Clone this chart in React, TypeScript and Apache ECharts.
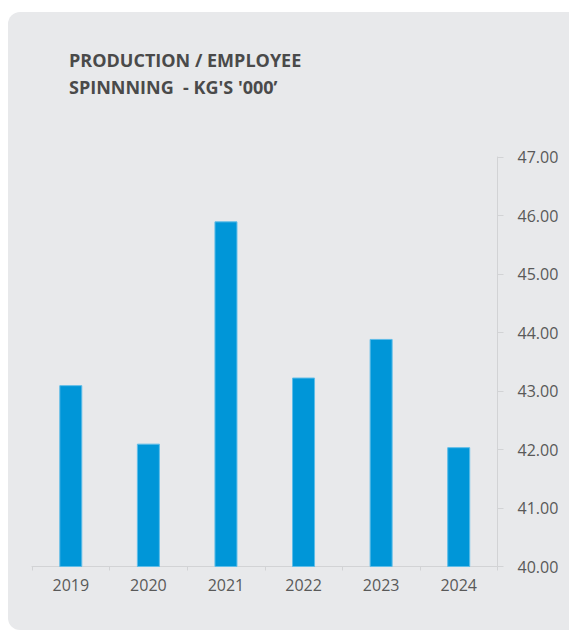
import React, { useEffect, useRef } from "react";
import * as echarts from "echarts";

const categories = ["2019", "2020", "2021", "2022", "2023", "2024"];
const values = [43.1, 42.1, 45.9, 43.23, 43.89, 42.04];
const titleLines = ["PRODUCTION / EMPLOYEE", "SPINNNING  - KG'S '000’"];
const yMin = 40;
const yMax = 47;
const yInterval = 1;

export default function App() {
  const ref = useRef<HTMLDivElement>(null);
  useEffect(() => {
    if (!ref.current) return;
    const chart = echarts.init(ref.current, undefined, { renderer: "svg" });
    const font = "'Open Sans', sans-serif";
    chart.setOption({
      animation: false,
      graphic: [
        {
          type: "rect",
          z: -10,
          shape: { x: 8, y: 12, width: 620, height: 618, r: 12 },
          style: { fill: "#E8E9EB" },
        },
        {
          type: "text",
          x: 69,
          y: 51,
          style: {
            text: titleLines[0],
            font: `700 18px ${font}`,
            fill: "#4A4A4A",
          },
        },
        {
          type: "text",
          x: 69,
          y: 78,
          style: {
            text: titleLines[1],
            font: `700 18px ${font}`,
            fill: "#4A4A4A",
          },
        },
      ],
      grid: { left: 32, right: 71.5, top: 157, bottom: 64.5 },
      xAxis: {
        type: "category",
        data: categories,
        axisLine: { show: true, lineStyle: { color: "#D2D3D5", width: 1 } },
        axisTick: { show: true, length: 4, lineStyle: { color: "#D2D3D5" } },
        axisLabel: {
          color: "#595959",
          fontFamily: font,
          fontSize: 16,
          margin: 10,
        },
      },
      yAxis: {
        type: "value",
        position: "right",
        min: yMin,
        max: yMax,
        interval: yInterval,
        axisLine: { show: true, lineStyle: { color: "#D2D3D5", width: 1 } },
        axisTick: { show: true, length: 6, lineStyle: { color: "#D2D3D5" } },
        splitLine: { show: false },
        axisLabel: {
          color: "#595959",
          fontFamily: font,
          fontSize: 16,
          margin: 20,
          formatter: (v: number) => v.toFixed(2),
        },
      },
      series: [
        {
          type: "bar",
          data: values,
          barWidth: 23,
          itemStyle: {
            color: "#0096D8",
            borderColor: "#5FBDE8",
            borderWidth: 1,
          },
        },
      ],
    });
    return () => chart.dispose();
  }, []);
  return (
    <div
      ref={ref}
      style={{ position: "absolute", left: 0, top: 0, width: 569, height: 631 }}
    />
  );
}
